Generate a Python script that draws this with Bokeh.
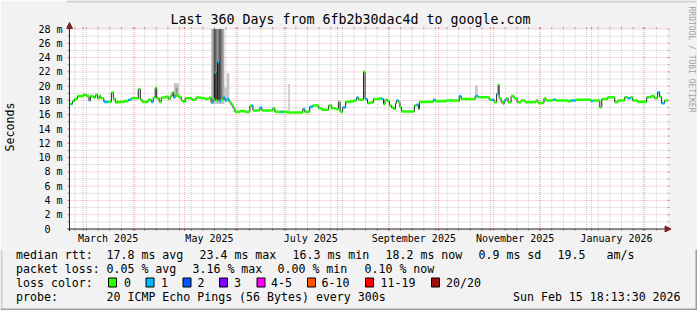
import math
import pandas as pd
from bokeh.plotting import figure
from bokeh.layouts import column
from bokeh.models import (Label, BoxAnnotation, Arrow, NormalHead, FixedTicker,
                          Range1d, CustomJSTickFormatter)
from bokeh.core.properties import value
from bokeh.embed import file_html
from bokeh.resources import INLINE

# ---------------- data ----------------
END = pd.Timestamp("2026-02-15 18:13:30")
SPAN_DAYS = 360
START = END - pd.Timedelta(days=SPAN_DAYS)

# median rtt (ms), step series; day offset from START; loss colour class
med_day = [0, 0.9, 1.8, 3, 4.8, 8.4, 10.2, 11.7, 12.6, 14.4, 15.6, 16.8, 18, 18.9, 20.7,
           23.4, 25.2, 26.4, 27.6, 28.8, 33, 35.4, 37.2, 41.4, 42.6, 43.8, 47.4, 49.2, 50.4,
           51.6, 52.5, 54, 55.2, 57.6, 59.4, 60.6, 61.8, 62.7, 63.6, 65.4, 67.2, 68.4, 69.6,
           73.8, 76.2, 79.2, 81.6, 84, 85.2, 86.4, 87.3, 88.2, 89.1, 90, 91.2, 92.4, 93.6,
           94.8, 96, 97.2, 98.4, 99.6, 102.6, 105.6, 108.6, 109.5, 110.4, 114.6, 115.8, 119.4,
           122.4, 123.6, 127.2, 128.4, 131.4, 140.4, 141.6, 144.6, 146.4, 150, 151.8, 156,
           157.8, 160.2, 162, 162.9, 164.4, 166.2, 169.2, 171.6, 172.8, 174, 177, 177.9,
           179.4, 180.6, 183, 186.6, 187.8, 189, 189.9, 191.4, 192.6, 193.8, 195, 196.2,
           196.8, 198, 198.9, 199.8, 207.6, 208.8, 210, 210.6, 219, 220.2, 226.8, 234, 234.6,
           235.8, 244.2, 246, 252.6, 253.8, 255.6, 257.1, 258, 258.6, 259.8, 261, 261.6,
           262.8, 264, 265.8, 267.6, 269.4, 271.8, 274.2, 280.8, 282, 285.6, 286.8, 291,
           292.8, 300, 301.8, 304.8, 313.8, 315, 319.2, 320.4, 324, 328.2, 330, 334.2, 336,
           337.8, 339, 342, 347.4, 349.8, 352.2, 354, 355.2, 356.4, 358.2]
med_ms = [17.5, 17.5, 17.9, 18.2, 18.6, 18.8, 18.6, 18.0, 18.6, 18.4, 18.8, 18.3, 18.6, 18.3, 17.8,
          17.8, 19.1, 18.2, 17.7, 17.8, 17.9, 18.1, 18.3, 19.6, 18.1, 17.8, 18.1, 17.8, 18.4,
          19.75, 18.3, 17.8, 18.4, 18.5, 18.2, 18.6, 19.1, 18.4, 18.7, 18.5, 18.0, 17.8, 18.3,
          18.1, 18.4, 18.3, 18.2, 18.4, 17.7, 18.2, 21.9, 18.0, 23.4, 17.9, 18.1, 18.4, 18.0,
          18.2, 17.8, 17.4, 16.9, 16.4, 16.5, 16.4, 17.2, 17.3, 16.6, 17.0, 16.6, 16.6,
          16.9, 16.4, 16.4, 16.4, 16.3, 16.8, 16.4, 17.1, 17.3, 16.9, 16.7, 17.3,
          16.9, 16.8, 17.8, 16.4, 17.0, 17.8, 17.9, 18.0, 18.4, 18.1, 22.0, 18.2,
          17.6, 17.7, 18.2, 18.3, 18.2, 17.5, 18.1, 17.9, 17.3, 17.0, 16.8, 17.6,
          18.0, 17.8, 17.05, 16.45, 17.3, 17.4, 16.8, 17.8, 18.1, 17.9, 18.0, 17.9, 18.6,
          18.2, 18.6, 18.45, 18.1, 18.1, 17.75, 18.9, 20.2, 18.3, 17.75, 17.5, 18.0,
          18.3, 17.75, 18.6, 18.3, 17.75, 18.0, 17.75, 18.0, 17.65, 18.3, 18.0, 18.1,
          18.0, 17.9, 18.0, 18.1, 17.9, 18.0, 17.05, 18.2, 18.45, 17.75, 18.0, 18.45, 18.3,
          18.45, 18.0, 17.8, 18.45, 18.6, 18.3, 19.15, 18.5, 17.6, 18.0]
med_loss = [0, 1, 0, 0, 0, 0, 0, 1, 0, 0, 0, 0, 0, 0, 1,
            0, 0, 0, 0, 0, 0, 1, 0, 0, 0, 0, 0, 1, 0,
            0, 0, 0, 0, 0, 0, 0, 0, 1, 0, 0, 0, 0, 0,
            0, 0, 0, 0, 0, 1, 0, 1, 0, 1, 1, 0, 1, 1,
            1, 0, 0, 0, 0, 0, 0, 0, 1, 0, 1, 0, 0,
            0, 0, 1, 0, 0, 1, 0, 1, 0, 0, 0, 0,
            0, 0, 0, 0, 1, 0, 0, 0, 1, 0, 0, 1,
            0, 0, 0, 0, 1, 0, 0, 0, 0, 0, 0, 0,
            1, 0, 0, 0, 0, 1, 0, 0, 1, 0, 0, 0, 1,
            0, 1, 0, 0, 1, 0, 1, 0, 0, 0, 0, 1,
            0, 0, 0, 0, 0, 0, 0, 0, 0, 0, 0, 1,
            0, 0, 1, 0, 1, 0, 0, 0, 0, 0, 0, 0, 1,
            0, 0, 0, 0, 0, 0, 1, 0, 1, 0]

# smoke (spread of the pings): day range, ms range, density level
smoke_start = [85.2, 86.1, 86.8, 89.8, 92.8, 94.6, 62.8, 63.9, 131.7, 244.2]
smoke_end = [93.3, 92.7, 88.4, 91.4, 95.8, 96.2, 65.8, 65.1, 132.6, 245.7]
smoke_lo = [17.5, 18.2, 18.0, 18.0, 18.0, 18.0, 18.5, 18.6, 16.4, 18.5]
smoke_hi = [28.0, 28.0, 28.0, 28.0, 19.8, 21.8, 20.4, 19.8, 20.3, 20.1]
smoke_level = [1, 2, 3, 3, 1, 1, 1, 2, 1, 1]

y_ticks = list(range(0, 29, 2))
y_minor = list(range(1, 28, 2))
month_labels = ["March 2025", "May 2025", "July 2025", "September 2025",
                "November 2025", "January 2026"]
month_label_dates = ["2025-03-16", "2025-05-16", "2025-07-16", "2025-09-16",
                     "2025-11-16", "2026-01-16"]

loss_names = ["0", "1", "2", "3", "4-5", "6-10", "11-19", "20/20"]
loss_colors = ["#26ff00", "#00b8ff", "#0059ff", "#7e00ff", "#ff00ff", "#ff5500",
               "#ff0000", "#a01010"]

title_text = "Last 360 Days from 6fb2b30dac4d to google.com"
rtt_stats = ["median rtt:", "17.8 ms avg", "23.4 ms max", "16.3 ms min", "18.2 ms now",
             "0.9 ms sd", "19.5", "am/s"]
loss_stats = ["packet loss:", "0.05 % avg", "3.16 % max", "0.00 % min", "0.10 % now"]
probe_texts = ["probe:", "20 ICMP Echo Pings (56 Bytes) every 300s", "Sun Feb 15 18:13:30 2026"]

# ---------------- geometry / style ----------------
W, H = 697, 310
HA = 249                      # height of the chart part
FL, FB = 64, 232              # frame left / bottom of chart part (canvas px)
X0PX, Y0PX = 67, 228.5        # pixel of day 0 / 0 ms
PX_DAY = 600 / 360
PX_MS = 200 / 28
MONO = "DejaVu Sans Mono"
BG = "#f2f2f2"
GRID = "#8f8f8f"
MGRID = "#de4f4f"
AXIS = "#1f1f1f"
ARROW = "#801f1f"
SHADE_A, SHADE_B = "#cfcfcf", "#9e9e9e"
BASE_FIX = 3.7                # renderer places 'alphabetic' text this much lower

day = lambda ts: (pd.Timestamp(ts) - START) / pd.Timedelta(days=1)
month_days = [day(d) for d in pd.date_range("2025-03-01", END, freq="MS")]
week_days = [day(d) for d in pd.date_range("2025-02-24", END, freq="7D")]
label_days = [day(d) for d in month_label_dates]

xs = -(X0PX - FL) / PX_DAY
ys = -(FB - Y0PX) / PX_MS
pa = figure(width=W, height=HA, output_backend="svg", toolbar_location=None, title=None,
            x_range=Range1d(xs, xs + (W - FL) / PX_DAY),
            y_range=Range1d(ys, ys + FB / PX_MS),
            min_border_left=FL, min_border_right=0, min_border_top=0,
            min_border_bottom=HA - FB, background_fill_color=BG, border_fill_color=BG,
            outline_line_color=None)
pa.xgrid.visible = False
pa.ygrid.visible = False

# axes (labels only; lines and ticks drawn RRDtool-style below)
xa = pa.xaxis[0]
xa.ticker = FixedTicker(ticks=label_days, minor_ticks=[])
xa.formatter = CustomJSTickFormatter(
    args=dict(t=label_days, l=month_labels),
    code="const i = t.findIndex(v => Math.abs(v - tick) < 1e-6); return i >= 0 ? l[i] : '';")
xa.axis_line_color = None
xa.major_tick_line_color = None
xa.minor_tick_line_color = None
xa.major_tick_out = 0
xa.major_tick_in = 0
xa.major_label_standoff = 0
xa.major_label_text_font = MONO
xa.major_label_text_font_size = "10px"
xa.major_label_text_color = "black"

ya = pa.yaxis[0]
ya.ticker = FixedTicker(ticks=y_ticks, minor_ticks=[])
ya.formatter = CustomJSTickFormatter(code="return tick == 0 ? '0\u00a0\u00a0' : tick + ' m'")
ya.axis_line_color = None
ya.major_tick_line_color = None
ya.minor_tick_line_color = None
ya.major_tick_out = 0
ya.major_tick_in = 0
ya.major_label_standoff = 4
ya.major_label_text_font = MONO
ya.major_label_text_font_size = "10px"
ya.major_label_text_color = "black"
# trailing no-break spaces move the centred, rotated label down to where RRDtool puts it
ya.axis_label = "Seconds\u00a0\u00a0\u00a0"
ya.axis_label_text_font = MONO
ya.axis_label_text_font_size = "11.6px"
ya.axis_label_text_font_style = "normal"
ya.axis_label_text_color = "black"
ya.axis_label_standoff = 18

# canvas
pa.quad(left=[0], right=[SPAN_DAYS], bottom=[0], top=[28], fill_color="white", line_color=None)

# grid: dashed bodies + solid 2px ticks beyond both ends
tx = 2 / PX_DAY
ty = 2 / PX_MS
for vals, col, alpha in [(y_minor, GRID, 0.45), (y_ticks[1:], MGRID, 0.42)]:
    n = len(vals)
    pa.segment(x0=[0] * n, x1=[SPAN_DAYS] * n, y0=vals, y1=vals,
               line_color=col, line_alpha=alpha, line_dash="1 1", line_width=1)
    pa.segment(x0=[-tx] * n, x1=[0] * n, y0=vals, y1=vals, line_color=col, line_alpha=0.8)
    pa.segment(x0=[SPAN_DAYS] * n, x1=[SPAN_DAYS + tx] * n, y0=vals, y1=vals,
               line_color=col, line_alpha=0.8)
for vals, col, alpha in [(week_days, GRID, 0.45), (month_days, MGRID, 0.42)]:
    n = len(vals)
    pa.segment(x0=vals, x1=vals, y0=[0] * n, y1=[28] * n,
               line_color=col, line_alpha=alpha, line_dash="1 1", line_width=1)
    pa.segment(x0=vals, x1=vals, y0=[-ty] * n, y1=[0] * n, line_color=col, line_alpha=0.8)
    pa.segment(x0=vals, x1=vals, y0=[28] * n, y1=[28 + ty] * n, line_color=col, line_alpha=0.8)

# smoke
shade = {1: "#c4c4c4", 2: "#949494", 3: "#5c5c5c"}
pa.quad(left=smoke_start, right=smoke_end, bottom=smoke_lo, top=smoke_hi,
        fill_color=[shade[l] for l in smoke_level], line_color=None)

# median line
step_x = med_day + [SPAN_DAYS]
step_y = med_ms + [med_ms[-1]]
pa.step(x=step_x, y=step_y, mode="after", line_color="#202020", line_width=1)
pa.segment(x0=med_day, x1=step_x[1:], y0=med_ms, y1=med_ms,
           line_color=[loss_colors[l] for l in med_loss], line_width=2.6, line_cap="butt")

# axis lines + arrows
x_tip = (670.5 - X0PX) / PX_DAY
y_tip = (Y0PX - 22) / PX_MS
pa.segment(x0=[-tx], x1=[x_tip - 3 / PX_DAY], y0=[0], y1=[0], line_color=AXIS)
pa.segment(x0=[0], x1=[0], y0=[-ty], y1=[y_tip - 3 / PX_MS], line_color=AXIS)
pa.add_layout(Arrow(end=NormalHead(size=6, fill_color=ARROW, line_color=ARROW),
                    x_start=x_tip - 5, y_start=0, x_end=x_tip, y_end=0, line_color=None))
pa.add_layout(Arrow(end=NormalHead(size=6, fill_color=ARROW, line_color=ARROW),
                    x_start=0, y_start=y_tip - 1, x_end=0, y_end=y_tip, line_color=None))

sx = lambda px: px - FL
sy = lambda py: FB - py


def label(px, py, s, size, align="center", baseline="alphabetic", angle=0, color="black"):
    lab = Label(x=sx(px), y=sy(py), x_units="screen", y_units="screen", text=s,
                text_font=MONO, text_font_size=size, text_align=align,
                text_baseline=baseline, angle=angle, text_color=color)
    pa.add_layout(lab)


label(348, 23 - BASE_FIX, title_text, "13.3px")
label(688.5, 59, "RRDTOOL / TOBI OETIKER", "8px", baseline="middle",
      angle=-math.pi / 2, color="#a0a0a0")

for l, r, t, b, c in [(FL, W, 0, 2, SHADE_A), (W - 2, W, 0, FB, SHADE_B)]:
    pa.add_layout(BoxAnnotation(left=sx(l), right=sx(r), top=sy(t), bottom=sy(b),
                                left_units="screen", right_units="screen",
                                top_units="screen", bottom_units="screen",
                                fill_color=c, fill_alpha=1, line_color=None))

# ---------------- legend part (canvas-pixel coordinates) ----------------
pb = figure(width=W, height=H - HA, output_backend="svg", toolbar_location=None, title=None,
            x_range=Range1d(0, W), y_range=Range1d(H, HA), x_axis_type=None,
            y_axis_type=None, min_border=0, min_border_left=0, min_border_right=0,
            min_border_top=0, min_border_bottom=0, background_fill_color=BG,
            border_fill_color=BG, outline_line_color=None)
pb.xgrid.visible = False
pb.ygrid.visible = False

row_y = [258 - BASE_FIX, 272 - BASE_FIX, 286 - BASE_FIX, 300 - BASE_FIX]
rows_x = [15.5, 106, 199, 292, 385, 478, 557, 606]
lx = rows_x + [15.5, 106, 192, 277, 364] + [15.5, 106, 512.5] + [15.5]
ly = [row_y[0]] * 8 + [row_y[1]] * 5 + [row_y[3]] * 3 + [row_y[2]]
lt = rtt_stats + loss_stats + probe_texts + ["loss color:"]
box_x = [108, 145.5, 182.5, 219, 256.5, 307, 365, 431]
name_x = [123.5, 160.5, 197, 233.5, 270.5, 321, 380, 445.5]
lx += name_x
ly += [row_y[2]] * len(name_x)
lt += loss_names
pb.text(x=lx, y=ly, text=lt, text_font=value(MONO), text_font_size=value("11.6px"),
        text_align="left", text_baseline="alphabetic", text_color="black")
pb.quad(left=box_x, right=[b + 8 for b in box_x], top=[277.5] * 8, bottom=[286.5] * 8,
        fill_color=loss_colors, line_color="black", line_width=1)
pb.quad(left=[0, W - 2, 0], right=[2, W, W], top=[HA, HA, H - 2], bottom=[H, H, H],
        fill_color=[SHADE_A, SHADE_B, SHADE_B], line_color=None)

layout = column(pa, column(pb, spacing=0), spacing=0)
open("out.html", "w").write(file_html(layout, INLINE))
